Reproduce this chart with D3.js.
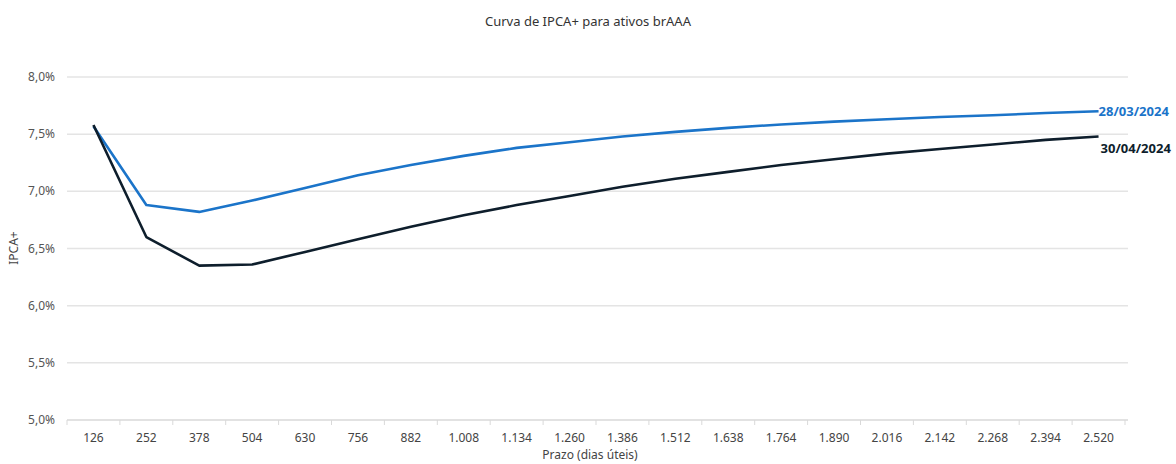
<!DOCTYPE html>
<html><head><meta charset="utf-8">
<script src="https://cdn.jsdelivr.net/npm/d3@7"></script>
<style>body{margin:0;background:#fff;font-family:"Noto Sans",sans-serif;}</style>
</head><body><svg id="c" width="1176" height="464"></svg>
<script>
const categories = [126,252,378,504,630,756,882,1008,1134,1260,1386,1512,1638,1764,1890,2016,2142,2268,2394,2520];
const categoryLabels = ["126","252","378","504","630","756","882","1.008","1.134","1.260","1.386","1.512","1.638","1.764","1.890","2.016","2.142","2.268","2.394","2.520"];
const serie2803 = [7.57,6.88,6.82,6.92,7.03,7.14,7.23,7.31,7.38,7.43,7.48,7.52,7.555,7.585,7.61,7.63,7.65,7.665,7.685,7.70];
const serie3004 = [7.58,6.60,6.35,6.36,6.47,6.58,6.69,6.79,6.88,6.96,7.04,7.11,7.17,7.23,7.28,7.33,7.37,7.41,7.45,7.48];
const yTicks = [5.0,5.5,6.0,6.5,7.0,7.5,8.0];
const seriesNames = ["28/03/2024","30/04/2024"];
const colors = ["#1b74c9","#0e1e2c"];

const svg = d3.select("#c");
const x = d3.scaleBand().domain(categories).range([67,1125]);
const y = d3.scaleLinear().domain([5,8]).range([420,77]);
const fmt = v => d3.format(".1f")(v).replace(".",",") + "%";

// gridlines
svg.append("g").selectAll("line").data(yTicks).join("line")
  .attr("x1",67).attr("x2",1128).attr("y1",d=>y(d)).attr("y2",d=>y(d))
  .attr("stroke",d=>d===5?"#d9d9d9":"#e4e4e4").attr("stroke-width",1.5);
// y labels
svg.append("g").selectAll("text").data(yTicks).join("text")
  .attr("x",55).attr("y",d=>y(d)+4).attr("text-anchor","end")
  .attr("font-size",12).attr("fill","#555").text(fmt);
// x axis ticks at band boundaries
const bounds = categories.map(c=>x(c)).concat([x(categories[categories.length-1])+x.bandwidth()]);
svg.append("g").selectAll("line").data(bounds).join("line")
  .attr("x1",d=>d).attr("x2",d=>d).attr("y1",420).attr("y2",425)
  .attr("stroke","#d9d9d9").attr("stroke-width",1);
svg.append("g").selectAll("text").data(categories).join("text")
  .attr("x",d=>x(d)+x.bandwidth()/2).attr("y",442).attr("text-anchor","middle")
  .attr("font-size",12).attr("fill","#444").text((d,i)=>categoryLabels[i]);

// lines
const line = d3.line().x((d,i)=>x(categories[i])+x.bandwidth()/2).y(d=>y(d));
[serie2803, serie3004].forEach((s,k)=>{
  svg.append("path").datum(s).attr("d",line).attr("fill","none")
    .attr("stroke",colors[k]).attr("stroke-width",2.6).attr("stroke-linejoin","round");
});
// end labels
const lastX = x(categories[categories.length-1])+x.bandwidth()/2;
svg.append("text").attr("x",lastX).attr("y",y(serie2803[serie2803.length-1])+5)
  .attr("font-size",13).attr("font-weight","bold").attr("fill",colors[0]).text(seriesNames[0]);
svg.append("text").attr("x",lastX+2).attr("y",y(serie3004[serie3004.length-1])+17)
  .attr("font-size",13).attr("font-weight","bold").attr("fill",colors[1]).text(seriesNames[1]);

// titles
svg.append("text").attr("x",588).attr("y",26).attr("text-anchor","middle")
  .attr("font-size",13).attr("fill","#333").text("Curva de IPCA+ para ativos brAAA");
svg.append("text").attr("x",590).attr("y",459).attr("text-anchor","middle")
  .attr("font-size",12).attr("fill","#444").text("Prazo (dias úteis)");
svg.append("text").attr("transform","translate(18,248) rotate(-90)").attr("text-anchor","middle")
  .attr("font-size",12).attr("fill","#444").text("IPCA+");
</script></body></html>
